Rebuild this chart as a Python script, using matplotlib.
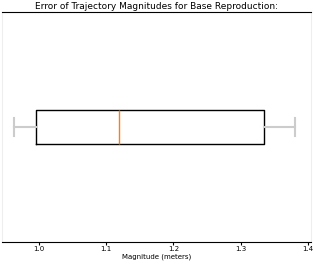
import matplotlib
matplotlib.use('Agg')
import matplotlib.pyplot as plt

# box stats (meters)
whisker_low = 0.963
q1 = 0.995
median = 1.119
q3 = 1.335
whisker_high = 1.381

ticks = [1.0, 1.1, 1.2, 1.3, 1.4]
tick_labels = ['1.0', '1.1', '1.2', '1.3', '1.4']

stats = [{'whislo': whisker_low, 'q1': q1, 'med': median,
          'q3': q3, 'whishi': whisker_high, 'fliers': []}]

fig = plt.figure(figsize=(3.14, 2.64), dpi=100)
ax = fig.add_axes([2 / 314, 22 / 264, 309 / 314, 230 / 264])

ax.bxp(stats, vert=False, widths=0.15, showfliers=False,
       boxprops=dict(color='black', linewidth=1.0),
       medianprops=dict(color='#ff7f0e', linewidth=1.0),
       whiskerprops=dict(color='#cccccc', linewidth=1.5),
       capprops=dict(color='#cccccc', linewidth=1.5))

ax.set_xlim(0.945, 1.4045)
ax.set_ylim(0.5, 1.5)
ax.set_yticks([])
ax.set_xticks(ticks)
ax.set_xticklabels(tick_labels)
ax.tick_params(axis='x', labelsize=5, length=2, width=0.8, pad=1)

ax.spines['left'].set_color('#eeeeee')
ax.spines['right'].set_color('#eeeeee')
ax.spines['top'].set_color('black')
ax.spines['bottom'].set_color('black')

ax.set_xlabel('Magnitude (meters)', fontsize=5, labelpad=1)
ax.set_title('Error of Trajectory Magnitudes for Base Reproduction:', fontsize=6.5, pad=2)

plt.savefig('out.png', dpi=100)
